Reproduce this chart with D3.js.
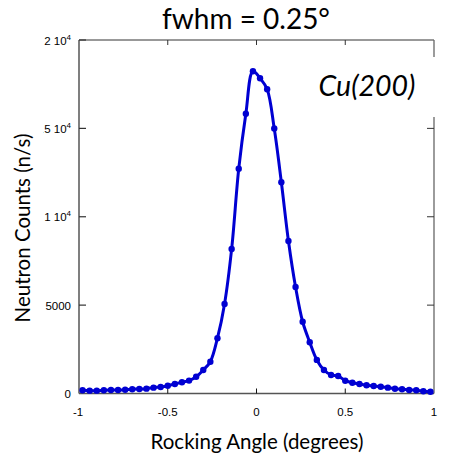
<!DOCTYPE html>
<html lang="en">
<head>
  <meta charset="UTF-8">
  <title>Cu(200) rocking curve</title>
  <script src="https://d3js.org/d3.v7.min.js"></script>
  <style>
    body { margin: 0; background: #fff; }
    svg { display: block; }
    .tick-label { font-family: "Liberation Sans", Arial, sans-serif; font-size: 11.5px; fill: #000; }
    .title { font-family: Lato, "Open Sans", sans-serif; fill: #000; }
  </style>
</head>
<body>
<svg width="452" height="455"></svg>

<script>
  // rocking angle (degrees) and neutron counts (n/s)
  const angles = [
    -0.98, -0.94, -0.90, -0.86, -0.82, -0.78, -0.74, -0.70, -0.66, -0.62,
    -0.58, -0.54, -0.50, -0.46, -0.42, -0.38, -0.34, -0.30, -0.26, -0.22,
    -0.18, -0.14, -0.10, -0.06, -0.02, 0.02, 0.06, 0.10, 0.14, 0.18,
    0.22, 0.26, 0.30, 0.34, 0.38, 0.42, 0.46, 0.50, 0.54, 0.58,
    0.62, 0.66, 0.70, 0.74, 0.78, 0.82, 0.86, 0.90, 0.94, 0.98
  ];
  const counts = [
    180, 160, 160, 180, 195, 200, 215, 240, 255, 275,
    330, 370, 440, 540, 640, 730, 950, 1330, 1800, 3130,
    5070, 8180, 12720, 15830, 18230, 17840, 17210, 14990, 11950, 8630,
    6030, 4060, 2900, 1900, 1330, 1050, 990, 725, 610, 540,
    465, 425, 385, 330, 270, 240, 200, 180, 125, 100
  ];

  const xTicks = [-1, -0.5, 0, 0.5, 1];
  const xTickLabels = ["-1", "-0.5", "0", "0.5", "1"];
  const yTicks = [0, 5000, 10000, 15000, 20000];
  const yTickBase = ["0", "5000", "1 10", "1.5 10", "2 10"];
  const yTickExp = ["", "", "4", "4", "4"];

  const data = angles.map((a, i) => ({angle: a, count: counts[i]}));

  const plotL = 79, plotR = 434, plotT = 40, plotB = 393.5;
  const blue = "#0000d2";

  const svg = d3.select("svg");

  const x = d3.scaleLinear().domain([-1, 1]).range([plotL, plotR]);
  const y = d3.scaleLinear().domain([0, 20000]).range([plotB, plotT]);

  // frame: top and right spines (thin)
  svg.append("line")
    .attr("x1", plotL).attr("x2", plotR).attr("y1", plotT).attr("y2", plotT)
    .attr("stroke", "#333").attr("stroke-width", 1);
  svg.append("line")
    .attr("x1", plotR).attr("x2", plotR).attr("y1", plotT).attr("y2", plotB)
    .attr("stroke", "#666").attr("stroke-width", 1.3);

  // inner ticks on top and right
  svg.selectAll(".ttick").data(xTicks.slice(1, -1)).enter().append("line")
    .attr("x1", d => x(d)).attr("x2", d => x(d))
    .attr("y1", plotT).attr("y2", plotT + 5)
    .attr("stroke", "#333");
  svg.selectAll(".rtick").data(yTicks.slice(1, -1)).enter().append("line")
    .attr("x1", plotR - 7).attr("x2", plotR)
    .attr("y1", d => y(d)).attr("y2", d => y(d))
    .attr("stroke", "#333");

  // left and bottom spines
  svg.append("line")
    .attr("x1", plotL).attr("x2", plotL).attr("y1", plotT).attr("y2", plotB)
    .attr("stroke", "#555").attr("stroke-width", 1.5);
  svg.append("line")
    .attr("x1", plotL).attr("x2", plotR).attr("y1", plotB).attr("y2", plotB)
    .attr("stroke", "#555").attr("stroke-width", 1.5);

  svg.selectAll(".btick").data(xTicks.slice(1, -1)).enter().append("line")
    .attr("x1", d => x(d)).attr("x2", d => x(d))
    .attr("y1", plotB - 5).attr("y2", plotB)
    .attr("stroke", "#111");
  svg.selectAll(".ltick").data(yTicks.slice(1)).enter().append("line")
    .attr("x1", plotL).attr("x2", plotL + 7)
    .attr("y1", d => y(d)).attr("y2", d => y(d))
    .attr("stroke", "#333").attr("stroke-width", 1.2);

  // x tick labels
  svg.selectAll(".xlab").data(xTicks).enter().append("text")
    .attr("class", "tick-label")
    .attr("x", (d, i) => x(d) - (i === 0 ? 1 : 0))
    .attr("y", 416)
    .attr("text-anchor", "middle")
    .text((d, i) => xTickLabels[i]);

  // y tick labels (left edge cut off like the original)
  svg.append("clipPath").attr("id", "yclip")
    .append("rect").attr("x", 43.5).attr("y", 0).attr("width", 40).attr("height", 455);

  const ylab = svg.append("g").attr("clip-path", "url(#yclip)")
    .selectAll(".ylab").data(yTicks).enter().append("text")
    .attr("class", "tick-label")
    .attr("x", 71)
    .attr("y", d => y(d) + 4.5)
    .attr("text-anchor", "end");
  ylab.append("tspan").text((d, i) => yTickBase[i]);
  ylab.append("tspan")
    .attr("dy", -5)
    .attr("font-size", "8px")
    .text((d, i) => yTickExp[i]);

  // curve and markers
  const line = d3.line()
    .x(d => x(d.angle))
    .y(d => y(d.count))
    .curve(d3.curveCatmullRom.alpha(0.5));

  svg.append("path")
    .datum(data)
    .attr("d", line)
    .attr("fill", "none")
    .attr("stroke", blue)
    .attr("stroke-width", 3)
    .attr("stroke-linejoin", "round");

  svg.selectAll(".dot").data(data).enter().append("circle")
    .attr("cx", d => x(d.angle))
    .attr("cy", d => y(d.count))
    .attr("r", 3.2)
    .attr("fill", blue);

  // label box covering part of the right spine
  svg.append("rect")
    .attr("x", 300).attr("y", 57).attr("width", 145).attr("height", 60)
    .attr("fill", "#fff");
  svg.append("text")
    .attr("class", "title")
    .attr("x", 367).attr("y", 96)
    .attr("text-anchor", "middle")
    .attr("font-size", "28.5px")
    .attr("font-style", "italic")
    .text("Cu(200)");

  // titles
  svg.append("text")
    .attr("class", "title")
    .attr("x", 246).attr("y", 29)
    .attr("text-anchor", "middle")
    .attr("font-size", "28px")
    .text("fwhm = 0.25°");

  svg.append("text")
    .attr("class", "title")
    .attr("x", 257).attr("y", 449)
    .attr("text-anchor", "middle")
    .attr("font-size", "20.5px")
    .text("Rocking Angle (degrees)");

  svg.append("text")
    .attr("class", "title")
    .attr("transform", "translate(30,228) rotate(-90)")
    .attr("text-anchor", "middle")
    .attr("font-size", "20.5px")
    .text("Neutron Counts (n/s)");
</script>
</body>
</html>
